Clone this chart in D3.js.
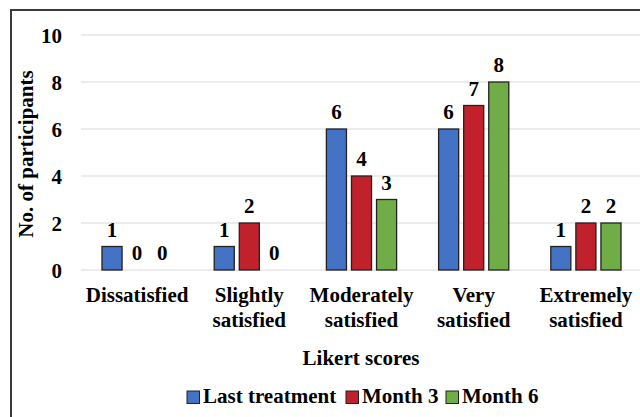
<!DOCTYPE html>
<html>
<head>
<meta charset="utf-8">
<script src="https://cdn.jsdelivr.net/npm/d3@7"></script>
<style>
  html, body { margin: 0; padding: 0; background: #fff; }
  svg { display: block; }
</style>
</head>
<body>
<svg id="chart" width="640" height="417"></svg>
<script>
// Likert satisfaction categories (two-line labels split on "\n")
const categories = ["Dissatisfied", "Slightly\nsatisfied", "Moderately\nsatisfied", "Very\nsatisfied", "Extremely\nsatisfied"];
const seriesNames = ["Last treatment", "Month 3", "Month 6"];
const lastTreatment = [1, 1, 6, 6, 1];
const month3 = [0, 2, 4, 7, 2];
const month6 = [0, 0, 3, 8, 2];
const yTicks = [0, 2, 4, 6, 8, 10];
const colors = ["#4472C4", "#C0212B", "#70AD47"];

const FONT = '"Liberation Serif"';

const seriesValues = [lastTreatment, month3, month6];
const rows = categories.map((c, i) => ({
  category: c,
  values: seriesNames.map((s, j) => ({ series: s, value: seriesValues[j][i] }))
}));

const svg = d3.select("#chart");

// Outer frame (runs off the right and bottom edges)
svg.append("rect")
  .attr("x", 11).attr("y", 10)
  .attr("width", 700).attr("height", 500)
  .attr("fill", "none").attr("stroke", "#3a3a3a").attr("stroke-width", 2);

const x0 = d3.scaleBand().domain(categories).range([81, 642]).padding(0);
const x1 = d3.scaleBand().domain(seriesNames)
  .range([21, x0.bandwidth() - 21]).paddingInner(0.2).paddingOuter(0);
const y = d3.scaleLinear().domain([0, 10]).range([270, 35]);

// Horizontal gridlines
svg.append("g").selectAll("line").data(yTicks).join("line")
  .attr("x1", 81).attr("x2", 642)
  .attr("y1", d => y(d)).attr("y2", d => y(d))
  .attr("stroke", "#d9d9d9").attr("stroke-width", 1);

function styleText(sel) {
  return sel.style("font-family", FONT).style("font-weight", "bold")
    .style("font-size", "21px").style("fill", "#000");
}

// Y axis tick labels
const yAxis = d3.axisLeft(y).tickValues(yTicks).tickSize(0).tickPadding(0);
const gy = svg.append("g").attr("transform", "translate(62,0)").call(yAxis);
gy.select(".domain").remove();
gy.attr("font-family", null).attr("font-size", null);
styleText(gy.selectAll("text").attr("dy", "0.34em"));

// Bars
const groups = svg.append("g").selectAll("g").data(rows).join("g")
  .attr("transform", d => `translate(${x0(d.category)},0)`);

groups.selectAll("rect").data(d => d.values.filter(v => v.value > 0)).join("rect")
  .attr("x", d => x1(d.series))
  .attr("y", d => y(d.value))
  .attr("width", x1.bandwidth())
  .attr("height", d => y(0) - y(d.value))
  .attr("fill", d => colors[seriesNames.indexOf(d.series)])
  .attr("stroke", "#222").attr("stroke-width", 1.3);

// Value labels
styleText(groups.selectAll("text").data(d => d.values).join("text")
  .attr("x", d => x1(d.series) + x1.bandwidth() / 2)
  .attr("y", d => y(d.value) - 10)
  .attr("text-anchor", "middle")
  .text(d => d.value));

// Category labels
const catLabels = styleText(svg.append("g").selectAll("text").data(categories).join("text")
  .attr("x", d => x0(d) + x0.bandwidth() / 2)
  .attr("y", 302)
  .attr("text-anchor", "middle"));
catLabels.selectAll("tspan").data(d => d.split("\n")).join("tspan")
  .attr("x", function() { return d3.select(this.parentNode).attr("x"); })
  .attr("dy", (d, i) => i === 0 ? 0 : 25)
  .text(d => d);

// Axis titles
styleText(svg.append("text")
  .attr("x", 361).attr("y", 365)
  .attr("text-anchor", "middle")
  .text("Likert scores"));

styleText(svg.append("text")
  .attr("transform", "translate(33,154) rotate(-90)")
  .attr("text-anchor", "middle")
  .text("No. of participants"));

// Legend
const legendX = [187, 346, 446];
const legend = svg.append("g").selectAll("g").data(seriesNames).join("g")
  .attr("transform", (d, i) => `translate(${legendX[i]},391)`);
legend.append("rect")
  .attr("width", 12.5).attr("height", 12.5)
  .attr("fill", (d, i) => colors[i])
  .attr("stroke", "#222").attr("stroke-width", 1);
styleText(legend.append("text")
  .attr("x", 16).attr("y", 12)
  .text(d => d));
</script>
</body>
</html>
